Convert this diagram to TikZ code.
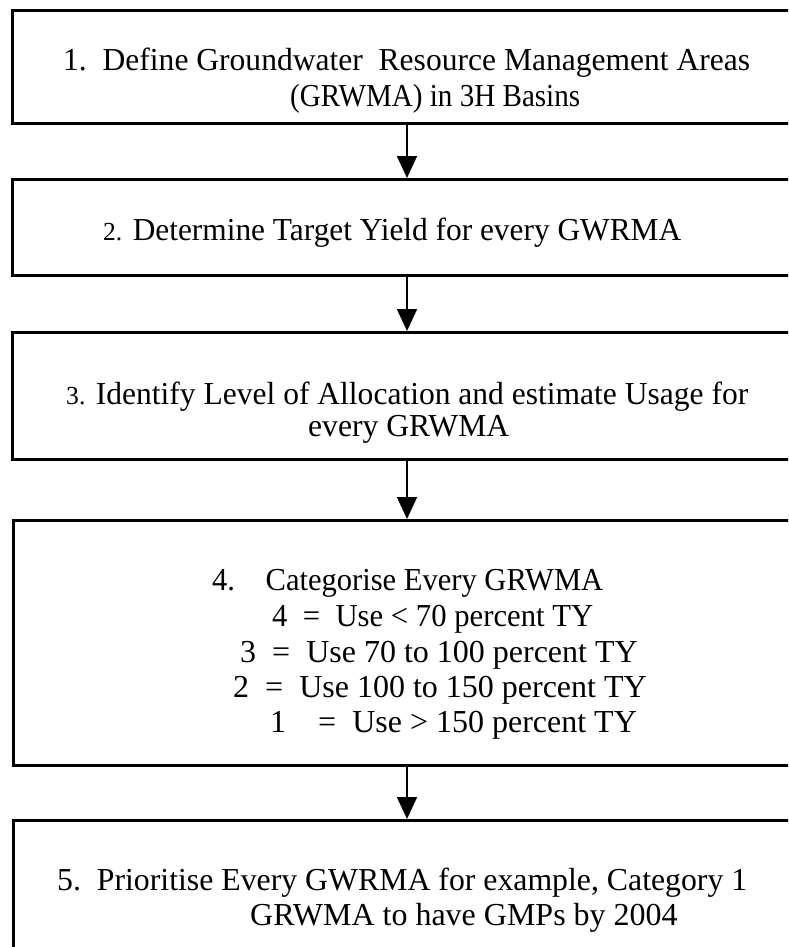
\documentclass[tikz,border=0pt]{standalone}
\usepackage{fontspec}
\setmainfont{Liberation Serif}
\usetikzlibrary{arrows.meta}
% stretch a line of text horizontally to a given width, keeping its height
\newcommand{\fitw}[2]{\resizebox{#1}{\height}{#2}}
\newcommand{\smallnum}[1]{{\fontsize{26}{30}\selectfont #1}}

\begin{document}
\begin{tikzpicture}[x=1pt,y=-1pt,
  stagebox/.style={draw=black, line width=2.6pt, fill=none, inner sep=0pt, anchor=north west},
  txt/.style={inner sep=0pt, anchor=base west, font=\fontsize{32}{38}\selectfont},
  flow/.style={draw=black, line width=1.8pt, -{Triangle[width=20pt,length=22pt]}}
]
\useasboundingbox (0,0) rectangle (788,947);
\clip (0,0) rectangle (788,947);

% stage boxes (right and lower edges run past the page)
\node[stagebox, minimum width=800pt, minimum height=113pt] (b1) at (11,9) {};
\node[stagebox, minimum width=800pt, minimum height=96pt]  (b2) at (11,178) {};
\node[stagebox, minimum width=800pt, minimum height=127pt] (b3) at (11,331) {};
\node[stagebox, minimum width=800pt, minimum height=245pt] (b4) at (12,519) {};
\node[stagebox, minimum width=800pt, minimum height=160pt] (b5) at (12,819) {};

% texts
\node[txt] (t1a) at (63,71)  {\fitw{687pt}{1.\enspace Define Groundwater\enspace Resource Management Areas}};
\node[txt] (t1b) at (290,107) {\fitw{290pt}{(GRWMA) in 3H Basins}};
\node[txt] (t2)  at (103,240) {\fitw{578pt}{\smallnum{2.} Determine Target Yield for every GWRMA}};
\node[txt] (t3a) at (66,404)  {\fitw{682pt}{\smallnum{3.} Identify Level of Allocation and estimate Usage for}};
\node[txt] (t3b) at (308,436) {\fitw{201pt}{every GRWMA}};
\node[txt] (t4a) at (212,590) {\fitw{391pt}{4.\enspace\enspace Categorise Every GRWMA}};
\node[txt] (t4b) at (272,626) {\fitw{321pt}{4\enspace=\enspace Use < 70 percent TY}};
\node[txt] (t4c) at (240,662) {3\enspace=\enspace Use 70 to 100 percent TY};
\node[txt] (t4d) at (233,697) {2\enspace=\enspace Use 100 to 150 percent TY};
\node[txt] (t4e) at (270,732) {1\quad=\enspace Use > 150 percent TY};
\node[txt] (t5a) at (57,890)  {\fitw{690pt}{5.\enspace Prioritise Every GWRMA for example, Category 1}};
\node[txt] (t5b) at (250,925) {GRWMA to have GMPs by 2004};

% connectors
\coordinate (ax) at (407,0);
\draw[flow] (b1.south -| ax) -- (b2.north -| ax);
\draw[flow] (b2.south -| ax) -- (b3.north -| ax);
\draw[flow] (b3.south -| ax) -- (b4.north -| ax);
\draw[flow] (b4.south -| ax) -- (b5.north -| ax);
\end{tikzpicture}
\end{document}
